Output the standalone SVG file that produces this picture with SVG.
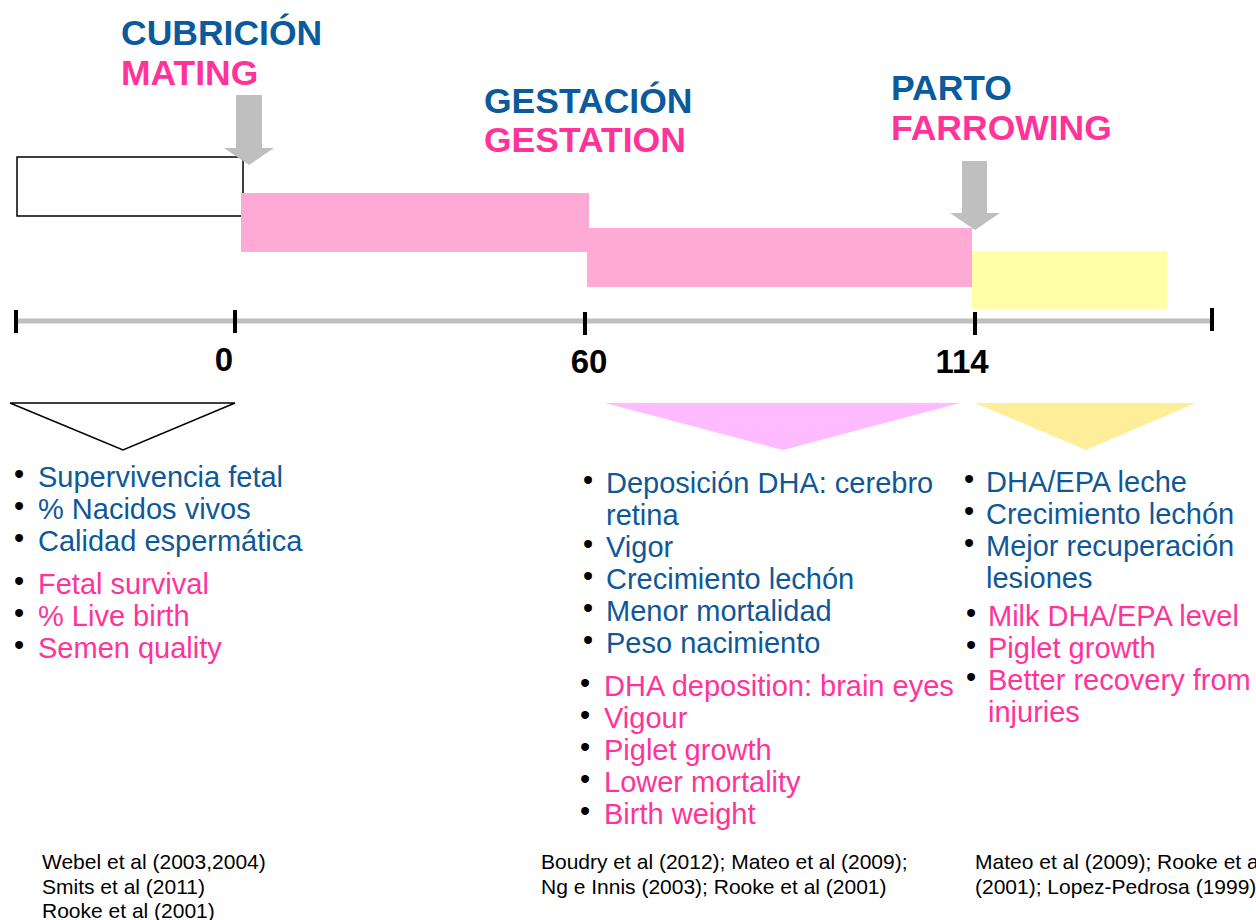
<svg xmlns="http://www.w3.org/2000/svg" width="1256" height="920" viewBox="0 0 1256 920">
<style>
text{font-family:"Liberation Sans",Arial,sans-serif}
.hb{font-size:35.5px;font-weight:bold;fill:#0A5A9C}
.hp{font-size:35.5px;font-weight:bold;fill:#FF3399}
.num{font-size:33px;font-weight:bold;fill:#000}
.b{font-size:29px;fill:#0F5898}
.p{font-size:29px;fill:#FF3399}
.dot{font-size:29px;fill:#000}
.ref{font-size:21px;fill:#000}
.tick{stroke:#000;stroke-width:4}
.garrow{fill:#BFBFBF}
</style>
<rect width="1256" height="920" fill="#fff"/>
<g id="bars">
<rect x="17" y="157" width="226" height="59" fill="#fff" stroke="#000" stroke-width="1.5"/>
<rect x="241" y="193" width="348" height="59" fill="#FFAAD5"/>
<rect x="587" y="228" width="385" height="59" fill="#FFAAD5"/>
<rect x="972" y="251" width="195" height="58" fill="#FFFFAA"/>
</g>
<g id="arrow-mating"><polygon class="garrow" points="236,95 262,95 262,148 274,148 249,165 224,148 236,148"/></g>
<g id="arrow-farrowing"><polygon class="garrow" points="962,161 987,161 987,213 1000,213 975,230 950,213 962,213"/></g>
<g id="headings">
<text class="hb" x="121" y="45">CUBRICIÓN</text>
<text class="hp" x="121" y="85">MATING</text>
<text class="hb" x="484" y="113">GESTACIÓN</text>
<text class="hp" x="484" y="152">GESTATION</text>
<text class="hb" x="891" y="100">PARTO</text>
<text class="hp" x="891" y="140">FARROWING</text>
</g>
<g id="timeline">
<line x1="16" y1="321" x2="1212" y2="321" stroke="#BEBEBE" stroke-width="5"/>
<line class="tick" x1="16" y1="310" x2="16" y2="333"/>
<line class="tick" x1="235" y1="310" x2="235" y2="333"/>
<line class="tick" x1="585" y1="312" x2="585" y2="335"/>
<line class="tick" x1="975" y1="312" x2="975" y2="335"/>
<line class="tick" x1="1212" y1="308" x2="1212" y2="331"/>
<text class="num" x="224" y="371" text-anchor="middle">0</text>
<text class="num" x="589" y="373" text-anchor="middle">60</text>
<text class="num" x="962" y="373" text-anchor="middle">114</text>
</g>
<g id="triangles">
<polygon points="10,403 235,403 123,450" fill="#fff" stroke="#000" stroke-width="1.5"/>
<polygon points="605,403 960,403 783,450" fill="#FFBBFF"/>
<polygon points="975,403 1196,403 1086,450" fill="#FFEE99"/>
</g>
<g id="list-mating">
<text class="dot" x="14" y="484">•</text><text class="b" x="38" y="487">Supervivencia fetal</text>
<text class="dot" x="14" y="516">•</text><text class="b" x="38" y="519">% Nacidos vivos</text>
<text class="dot" x="14" y="548">•</text><text class="b" x="38" y="551">Calidad espermática</text>
<text class="dot" x="14" y="591">•</text><text class="p" x="38" y="594">Fetal survival</text>
<text class="dot" x="14" y="623">•</text><text class="p" x="38" y="626">% Live birth</text>
<text class="dot" x="14" y="655">•</text><text class="p" x="38" y="658">Semen quality</text>
</g>
<g id="list-gestation">
<text class="dot" x="583" y="490">•</text><text class="b" x="606" y="493">Deposición DHA: cerebro</text>
<text class="b" x="606" y="525">retina</text>
<text class="dot" x="583" y="554">•</text><text class="b" x="606" y="557">Vigor</text>
<text class="dot" x="583" y="586">•</text><text class="b" x="606" y="589">Crecimiento lechón</text>
<text class="dot" x="583" y="618">•</text><text class="b" x="606" y="621">Menor mortalidad</text>
<text class="dot" x="583" y="650">•</text><text class="b" x="606" y="653">Peso nacimiento</text>
<text class="dot" x="580" y="693">•</text><text class="p" x="604" y="696">DHA deposition: brain eyes</text>
<text class="dot" x="580" y="725">•</text><text class="p" x="604" y="728">Vigour</text>
<text class="dot" x="580" y="757">•</text><text class="p" x="604" y="760">Piglet growth</text>
<text class="dot" x="580" y="789">•</text><text class="p" x="604" y="792">Lower mortality</text>
<text class="dot" x="580" y="821">•</text><text class="p" x="604" y="824">Birth weight</text>
</g>
<g id="list-farrowing">
<text class="dot" x="964" y="489">•</text><text class="b" x="986" y="492">DHA/EPA leche</text>
<text class="dot" x="964" y="521">•</text><text class="b" x="986" y="524">Crecimiento lechón</text>
<text class="dot" x="964" y="553">•</text><text class="b" x="986" y="556">Mejor recuperación</text>
<text class="b" x="986" y="588">lesiones</text>
<text class="dot" x="966" y="623">•</text><text class="p" x="988" y="626">Milk DHA/EPA level</text>
<text class="dot" x="966" y="655">•</text><text class="p" x="988" y="658">Piglet growth</text>
<text class="dot" x="966" y="687">•</text><text class="p" x="988" y="690">Better recovery from</text>
<text class="p" x="988" y="722">injuries</text>
</g>
<g id="references">
<text class="ref" x="42" y="869">Webel et al (2003,2004)</text>
<text class="ref" x="42" y="894">Smits et al (2011)</text>
<text class="ref" x="42" y="918">Rooke et al (2001)</text>
<text class="ref" x="541" y="869">Boudry et al (2012); Mateo et al (2009);</text>
<text class="ref" x="541" y="894">Ng e Innis (2003); Rooke et al (2001)</text>
<text class="ref" x="975" y="869">Mateo et al (2009); Rooke et al</text>
<text class="ref" x="975" y="894">(2001); Lopez-Pedrosa (1999)</text>
</g>
</svg>
